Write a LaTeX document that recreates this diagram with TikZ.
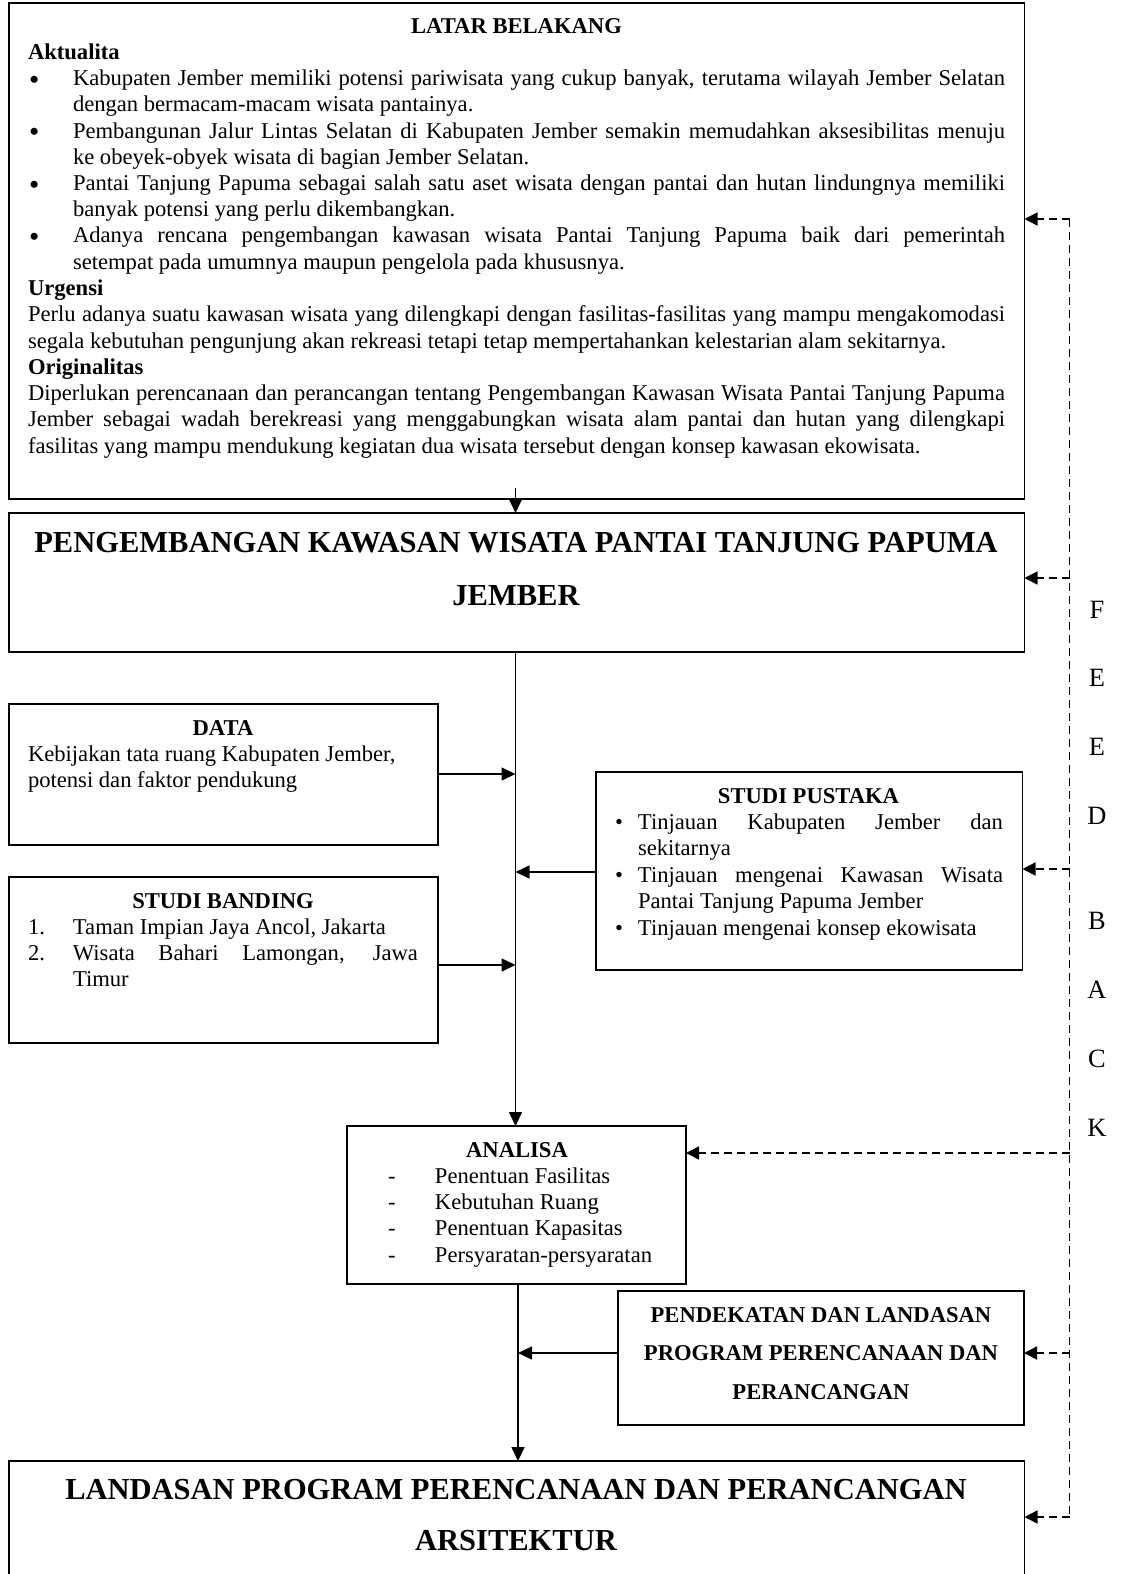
\documentclass[tikz,border=0pt]{standalone}
\usepackage{fontspec}
\usepackage{graphicx}
\setmainfont{Liberation Serif}
\usetikzlibrary{arrows.meta,calc}
\hyphenpenalty=10000
\exhyphenpenalty=10000
\tolerance=10000
\hbadness=10000
\hfuzz=20pt
\newcommand{\bodyfs}{\fontsize{22.6}{26.25}\selectfont}
\newcommand{\nitem}[3]{\par\hangindent=#1\hangafter=1\noindent\makebox[#1][l]{#2}#3\par}
\newcommand{\bigbul}{\raisebox{-3.5pt}{\scalebox{1.3}{\textbullet}}}
\begin{document}
\begin{tikzpicture}[x=1pt,y=-1pt,
  box/.style={draw, line width=1.8pt, inner sep=0pt, outer sep=0pt, anchor=north west},
  txt/.style={inner sep=0pt, outer sep=0pt, anchor=base west, font=\bodyfs},
  ctxt/.style={inner sep=0pt, outer sep=0pt, anchor=base},
  arr/.style={line width=1.6pt, -{Triangle[length=14pt,width=13pt]}},
  darr/.style={line width=1.6pt, dash pattern=on 8pt off 5pt, -{Triangle[length=13pt,width=13pt]}},
  dline/.style={line width=1.6pt, dash pattern=on 8pt off 5pt},
]
\useasboundingbox (0,0) rectangle (1120,1574);
\fill[white] (0,0) rectangle (1120,1574);

% LATAR BELAKANG
\node[box, minimum width=1015.5pt, minimum height=496pt] (latar) at (9,3) {};
\node[txt] (latartxt) at (28,33) {\parbox[t]{977pt}{%
{\centering\textbf{LATAR BELAKANG}\par}
\noindent\textbf{Aktualita}\par
\nitem{45pt}{\hspace{1pt}\bigbul}{Kabupaten Jember memiliki potensi pariwisata yang cukup banyak, terutama wilayah Jember Selatan\linebreak dengan bermacam-macam wisata pantainya.}
\nitem{45pt}{\hspace{1pt}\bigbul}{Pembangunan Jalur Lintas Selatan di Kabupaten Jember semakin memudahkan aksesibilitas menuju\linebreak ke obeyek-obyek wisata di bagian Jember Selatan.}
\nitem{45pt}{\hspace{1pt}\bigbul}{Pantai Tanjung Papuma sebagai salah satu aset wisata dengan pantai dan hutan lindungnya memiliki\linebreak banyak potensi yang perlu dikembangkan.}
\nitem{45pt}{\hspace{1pt}\bigbul}{Adanya rencana pengembangan kawasan wisata Pantai Tanjung Papuma baik dari pemerintah\linebreak setempat pada umumnya maupun pengelola pada khususnya.}
\noindent\textbf{Urgensi}\par
\noindent Perlu adanya suatu kawasan wisata yang dilengkapi dengan fasilitas-fasilitas yang mampu mengakomodasi\linebreak segala kebutuhan pengunjung akan rekreasi tetapi tetap mempertahankan kelestarian alam sekitarnya.\par
\noindent\textbf{Originalitas}\par
\noindent Diperlukan perencanaan dan perancangan tentang Pengembangan Kawasan Wisata Pantai Tanjung Papuma\linebreak Jember sebagai wadah berekreasi yang menggabungkan wisata alam pantai dan hutan yang dilengkapi\linebreak fasilitas yang mampu mendukung kegiatan dua wisata tersebut dengan konsep kawasan ekowisata.}};

% PENGEMBANGAN
\node[box, minimum width=1015.5pt, minimum height=139pt] (peng) at (9,513) {};
\node[ctxt, font=\bfseries\fontsize{30.5}{53}\selectfont] (pengtxt) at (516,552)
  {\parbox[t]{1010pt}{\centering PENGEMBANGAN KAWASAN WISATA PANTAI TANJUNG PAPUMA\\JEMBER}};

% DATA
\node[box, minimum width=429pt, minimum height=141pt] (data) at (9,704) {};
\node[txt] (datatxt) at (28,735) {\parbox[t]{390pt}{{\centering\textbf{DATA}\par}\raggedright Kebijakan tata ruang Kabupaten Jember,\\potensi dan faktor pendukung}};

% STUDI BANDING
\node[box, minimum width=429pt, minimum height=166pt] (banding) at (9,877) {};
\node[txt] (bandingtxt) at (28,908) {\parbox[t]{390pt}{{\centering\textbf{STUDI BANDING}\par}
\nitem{45pt}{1.}{Taman Impian Jaya Ancol, Jakarta}
\nitem{45pt}{2.}{Wisata Bahari Lamongan, Jawa\linebreak Timur}}};

% STUDI PUSTAKA
\node[box, minimum width=426.5pt, minimum height=198pt] (pustaka) at (596,772) {};
\node[txt, font=\fontsize{22.6}{26.4}\selectfont] (pustakatxt) at (614,803) {\parbox[t]{389pt}{{\centering\textbf{STUDI PUSTAKA}\par}
\nitem{24pt}{\hspace{1pt}\textbullet}{Tinjauan Kabupaten Jember dan\linebreak sekitarnya}
\nitem{24pt}{\hspace{1pt}\textbullet}{Tinjauan mengenai Kawasan Wisata\linebreak Pantai Tanjung Papuma Jember}
\nitem{24pt}{\hspace{1pt}\textbullet}{Tinjauan mengenai konsep ekowisata}}};

% ANALISA
\node[box, minimum width=339pt, minimum height=158pt] (analisa) at (347,1126) {};
\node[txt] (analisatxt) at (367,1157) {\parbox[t]{300pt}{{\centering\textbf{ANALISA}\par}\raggedright
\hspace*{21pt}\makebox[47pt][l]{-}Penentuan Fasilitas\\
\hspace*{21pt}\makebox[47pt][l]{-}Kebutuhan Ruang\\
\hspace*{21pt}\makebox[47pt][l]{-}Penentuan Kapasitas\\
\hspace*{21pt}\makebox[47pt][l]{-}Persyaratan-persyaratan}};

% PENDEKATAN
\node[box, minimum width=406pt, minimum height=134pt] (pend) at (618,1291) {};
\node[ctxt, font=\bfseries\fontsize{22.6}{38.5}\selectfont] (pendtxt) at (821,1322)
  {\parbox[t]{400pt}{\centering PENDEKATAN DAN LANDASAN\\PROGRAM PERENCANAAN DAN\\PERANCANGAN}};

% LANDASAN
\node[box, minimum width=1015.5pt, minimum height=140pt] (landasan) at (9,1461) {};
\node[ctxt, font=\bfseries\fontsize{30.5}{51.5}\selectfont] (landtxt) at (516,1499)
  {\parbox[t]{1010pt}{\centering LANDASAN PROGRAM PERENCANAAN DAN PERANCANGAN\\ARSITEKTUR}};

% FEEDBACK
\node[ctxt, font=\fontsize{26.4}{68.9}\selectfont] (feedback) at (1097,618)
  {\parbox[t]{40pt}{\centering F\\E\\E\\D\\[36pt]B\\A\\C\\K}};

% solid connectors
\coordinate (tx) at (515.5,0);
\coordinate (bx) at (518,0);
\coordinate (jd) at (515.5,774);
\coordinate (jp) at (515.5,872);
\coordinate (jb) at (515.5,965);
\coordinate (je) at (518,1353);
\draw[arr] ($(latar.south -| tx)+(0,-11)$) -- (peng.north -| tx);
\draw[arr] (peng.south -| tx) -- (analisa.north -| tx);
\draw[arr] (data.east |- jd) -- (jd);
\draw[arr] (pustaka.west |- jp) -- (jp);
\draw[arr] (banding.east |- jb) -- (jb);
\draw[arr] (analisa.south -| bx) -- (landasan.north -| bx);
\draw[arr] (pend.west |- je) -- (je);

% dashed feedback
\coordinate (f1) at (1069.5,219);
\coordinate (f2) at (1069.5,578);
\coordinate (f3) at (1069.5,869);
\coordinate (f4) at (1069.5,1153);
\coordinate (f5) at (1069.5,1353);
\coordinate (f6) at (1069.5,1517);
\draw[dline] (f1) -- (f6);
\draw[darr] (f1) -- (latar.east |- f1);
\draw[darr] (f2) -- (peng.east |- f2);
\draw[darr] (f3) -- (pustaka.east |- f3);
\draw[darr] (f4) -- (analisa.east |- f4);
\draw[darr] (f5) -- (pend.east |- f5);
\draw[darr] (f6) -- (landasan.east |- f6);
\end{tikzpicture}
\end{document}
